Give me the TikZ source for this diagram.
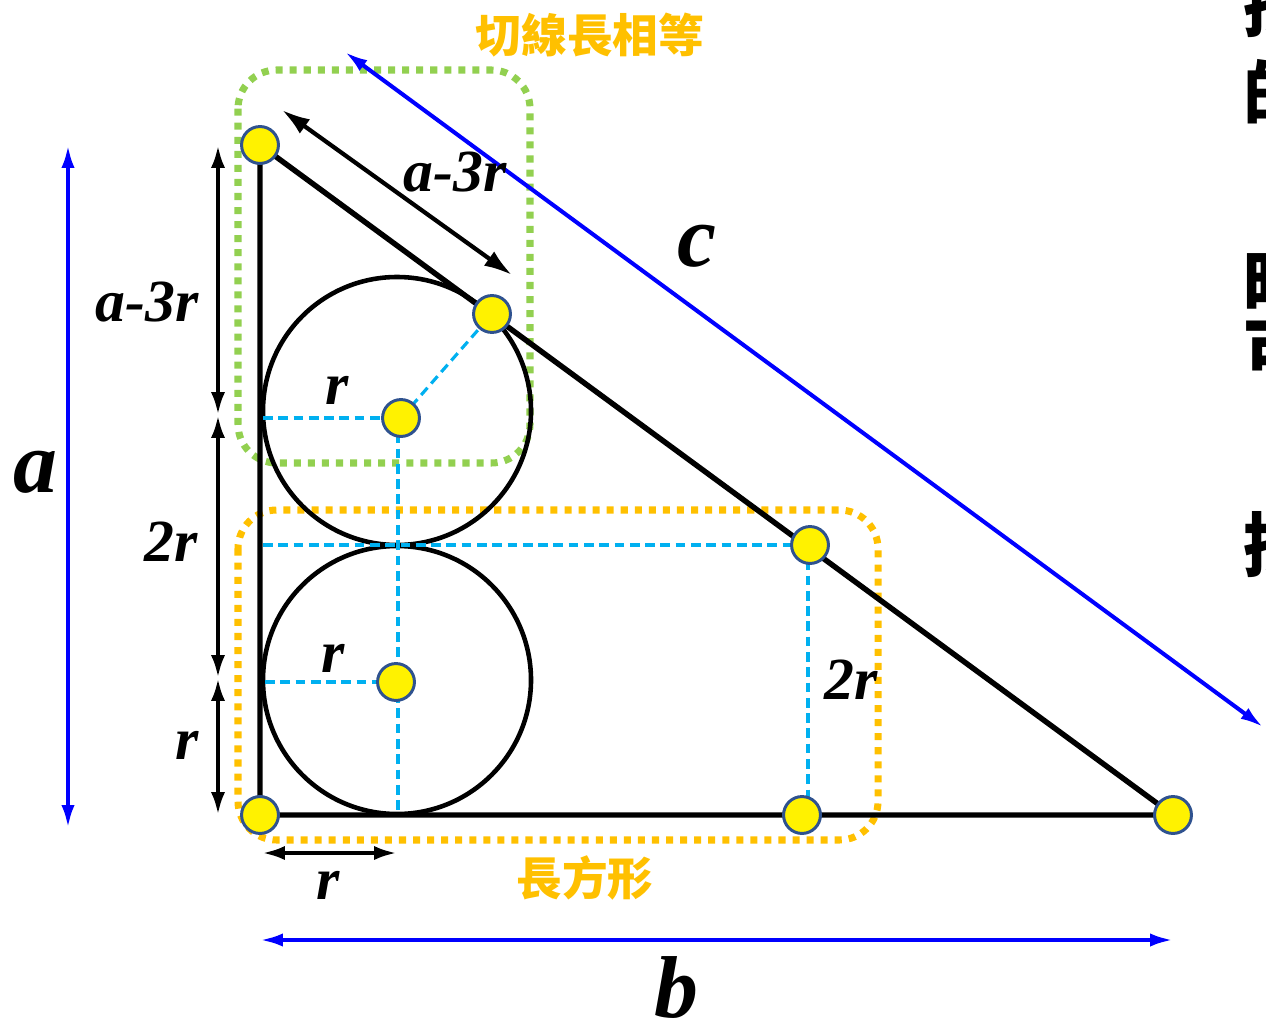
\documentclass[tikz,border=0pt]{standalone}
\usepackage{fontspec}
\setmainfont{Liberation Serif}
\newfontfamily\cjk{Noto Sans CJK TC}
\usetikzlibrary{arrows.meta}
\definecolor{dotblue}{HTML}{2F528F}
\definecolor{cyanl}{HTML}{00B0F0}
\definecolor{greenl}{HTML}{92D050}
\definecolor{orangel}{HTML}{FFC000}
\definecolor{bluel}{HTML}{0000FF}
\begin{document}
\begin{tikzpicture}[x=0.02cm,y=-0.02cm,
  dot/.style={circle, fill=yellow, draw=dotblue, line width=1.7pt, minimum size=21pt, inner sep=0pt},
  tri/.style={line width=3.1pt, line cap=round},
  circ/.style={line width=2.6pt},
  aux/.style={draw=cyanl, line width=1.8pt, dash pattern=on 5.5pt off 3.2pt},
  bluearr/.style={draw=bluel, line width=2.3pt, {Latex[length=13pt,width=7.5pt]}-{Latex[length=13pt,width=7.5pt]}},
  blackarr/.style={draw=black, line width=2.4pt, {Latex[length=13pt,width=8pt]}-{Latex[length=13pt,width=8pt]}},
  bigarr/.style={draw=black, line width=2.4pt, {Latex[length=16pt,width=10pt]}-{Latex[length=16pt,width=10pt]}},
  lab/.style={font=\fontsize{34}{34}\selectfont\bfseries\itshape, inner sep=0pt},
  biglab/.style={font=\fontsize{50}{50}\selectfont\bfseries\itshape, inner sep=0pt},
  cjklab/.style={text=orangel, font=\cjk\bfseries\fontsize{26}{26}\selectfont, inner sep=0pt},
  sidech/.style={font=\cjk\bfseries\fontsize{40}{40}\selectfont, anchor=west, inner sep=0pt},
  greenbox/.style={draw=greenl, line width=4pt, dash pattern=on 4pt off 4pt, rounded corners=22pt},
  orangebox/.style={draw=orangel, line width=4pt, dash pattern=on 4pt off 4pt, rounded corners=22pt}
]
\useasboundingbox (0,0) rectangle (1266,1020);

% dotted groups
\draw[greenbox] (238,70) rectangle (530,463);
\draw[orangebox] (238,510) rectangle (878,840);

% circles
\coordinate (O1c) at (397,411);
\coordinate (O2c) at (397,680);
\draw[circ] (O1c) circle[radius=134];
\draw[circ] (O2c) circle[radius=134];

% key points
\coordinate (A) at (260,145);
\coordinate (C) at (260,815);
\coordinate (B) at (1173,815);
\coordinate (T1) at (492,314);
\coordinate (T2) at (810,545);
\coordinate (T3) at (802,815);
\coordinate (P1) at (401,418);
\coordinate (P2) at (396,682);

% auxiliary dashed lines
\coordinate (L1) at (263,418);
\coordinate (L2) at (263,545);
\coordinate (L3) at (265,682);
\coordinate (M1) at (398,418);
\coordinate (M2) at (398,815);
\coordinate (R1) at (808,545);
\coordinate (R2) at (808,815);
\draw[aux] (L1) -- (P1);
\draw[aux] (P1) -- (T1);
\draw[aux] (M1) -- (M2);
\draw[aux] (L2) -- (T2);
\draw[aux] (R1) -- (R2);
\draw[aux] (L3) -- (P2);

% triangle
\draw[tri] (A) -- (C) -- (B) -- cycle;

% points
\node[dot] (nA) at (A) {};
\node[dot] (nC) at (C) {};
\node[dot] (nB) at (B) {};
\node[dot] (nT1) at (T1) {};
\node[dot] (nT2) at (T2) {};
\node[dot] (nT3) at (T3) {};
\node[dot] (nP1) at (P1) {};
\node[dot] (nP2) at (P2) {};

% blue dimension arrows
\coordinate (a1) at (68,145);
\coordinate (a2) at (68,828);
\coordinate (b1) at (260,940);
\coordinate (b2) at (1173,940);
\coordinate (c1) at (345,52);
\coordinate (c2) at (1263,727);
\draw[bluearr] (a1) -- (a2);
\draw[bluearr] (b1) -- (b2);
\draw[bluearr] (c1) -- (c2);
\node[biglab] (la) at (35,472) {a};
\node[biglab] (lb) at (676,988) {b};
\node[biglab] (lc) at (697,246) {c};

% black dimension arrows
\coordinate (v1) at (218,145);
\coordinate (v2) at (218,415);
\coordinate (v3) at (218,678);
\coordinate (v4) at (218,815);
\draw[blackarr] (v1) -- (v2);
\draw[blackarr] (v2) -- (v3);
\draw[blackarr] (v3) -- (v4);
\coordinate (h1) at (262,853);
\coordinate (h2) at (397,853);
\draw[blackarr] (h1) -- (h2);
\coordinate (d1) at (282,110);
\coordinate (d2) at (512,275);
\draw[bigarr] (d1) -- (d2);

% labels
\node[lab] (t1) at (147,302) {a-3r};
\node[lab] (t2) at (171,542) {2r};
\node[lab] (t3) at (187,745) {r};
\node[lab] (t4) at (328,885) {r};
\node[lab] (t5) at (455,172) {a-3r};
\node[lab] (t6) at (337,390) {r};
\node[lab] (t7) at (333,658) {r};
\node[lab] (t8) at (851,680) {2r};

\node[cjklab] (g1) at (590,35) {切線長相等};
\node[cjklab] (g2) at (585,878) {長方形};

% cut-off text at right edge
\node[sidech] (s1) at (1243,5) {接};
\node[sidech] (s2) at (1243,93) {的};
\node[sidech] (s3) at (1243,283) {時};
\node[sidech] (s4) at (1243,352) {可};
\node[sidech] (s5) at (1243,545) {接};
\end{tikzpicture}
\end{document}
